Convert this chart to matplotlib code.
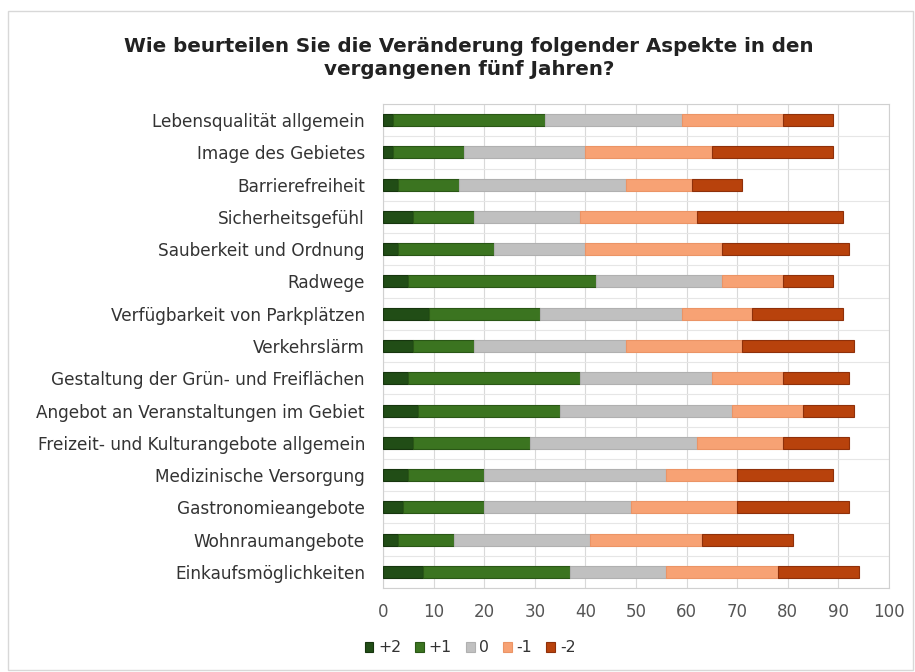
import matplotlib.pyplot as plt
from matplotlib.patches import Rectangle
import numpy as np

# categories from top to bottom
categories = [
    "Lebensqualität allgemein",
    "Image des Gebietes",
    "Barrierefreiheit",
    "Sicherheitsgefühl",
    "Sauberkeit und Ordnung",
    "Radwege",
    "Verfügbarkeit von Parkplätzen",
    "Verkehrslärm",
    "Gestaltung der Grün- und Freiflächen",
    "Angebot an Veranstaltungen im Gebiet",
    "Freizeit- und Kulturangebote allgemein",
    "Medizinische Versorgung",
    "Gastronomieangebote",
    "Wohnraumangebote",
    "Einkaufsmöglichkeiten",
]

plus2 = [2, 2, 3, 6, 3, 5, 9, 6, 5, 7, 6, 5, 4, 3, 8]
plus1 = [30, 14, 12, 12, 19, 37, 22, 12, 34, 28, 23, 15, 16, 11, 29]
zero = [27, 24, 33, 21, 18, 25, 28, 30, 26, 34, 33, 36, 29, 27, 19]
minus1 = [20, 25, 13, 23, 27, 12, 14, 23, 14, 14, 17, 14, 21, 22, 22]
minus2 = [10, 24, 10, 29, 25, 10, 18, 22, 13, 10, 13, 19, 22, 18, 16]

series_labels = ["+2", "+1", "0", "-1", "-2"]
colors = ["#214d16", "#3b7420", "#c0c0c0", "#f7a274", "#b8420c"]
edges = ["#16350e", "#2a5716", "#b0b0b0", "#eb9466", "#8f300a"]

title = "Wie beurteilen Sie die Veränderung folgender Aspekte in den\nvergangenen fünf Jahren?"

fig = plt.figure(figsize=(9.15, 6.72), dpi=100)
ax = fig.add_axes([383 / 915, 1 - 588 / 672, 506 / 915, 484 / 672])

# light frame around the whole chart
fig.patches.append(Rectangle((8 / 915, 2 / 672), 905 / 915, 659 / 672,
                             transform=fig.transFigure, fill=False,
                             edgecolor="#d8d8d8", linewidth=1.0))

y = np.arange(len(categories))
left = np.zeros(len(categories))
for vals, lab, c, ec in zip([plus2, plus1, zero, minus1, minus2],
                            series_labels, colors, edges):
    ax.barh(y, vals, left=left, height=0.37, color=c, edgecolor=ec,
            linewidth=0.8, label=lab, zorder=3)
    left += np.array(vals)

ax.set_xlim(0, 100)
ax.set_ylim(len(categories) - 0.5, -0.5)
ax.set_xticks(range(0, 101, 10))
ax.set_yticks(y)
ax.set_yticklabels(categories, fontsize=12.2, color="#333333")
ax.set_yticks(np.arange(-0.5, len(categories), 1), minor=True)
ax.tick_params(axis="x", labelsize=12, colors="#555555", length=0, pad=11)
ax.tick_params(axis="y", which="both", length=0, pad=13)
ax.grid(axis="x", color="#d9d9d9", linewidth=0.8, zorder=0)
ax.grid(axis="y", which="minor", color="#e6e6e6", linewidth=0.8, zorder=0)
for s in ax.spines.values():
    s.set_color("#d0d0d0")
    s.set_linewidth(0.8)

fig.text(0.5 * (121 + 817) / 915, 1 - 58 / 672, title, ha="center", va="center",
         fontsize=14.3, fontweight="bold", color="#222222", linespacing=1.3)

leg = fig.legend(loc="center", bbox_to_anchor=(470 / 915, 1 - 648 / 672),
                 ncol=5, frameon=False, fontsize=11.3, handlelength=0.55,
                 handleheight=0.55, handletextpad=0.3, columnspacing=0.9)
for t in leg.get_texts():
    t.set_color("#333333")

fig.savefig("out.png", dpi=100, facecolor="white")
